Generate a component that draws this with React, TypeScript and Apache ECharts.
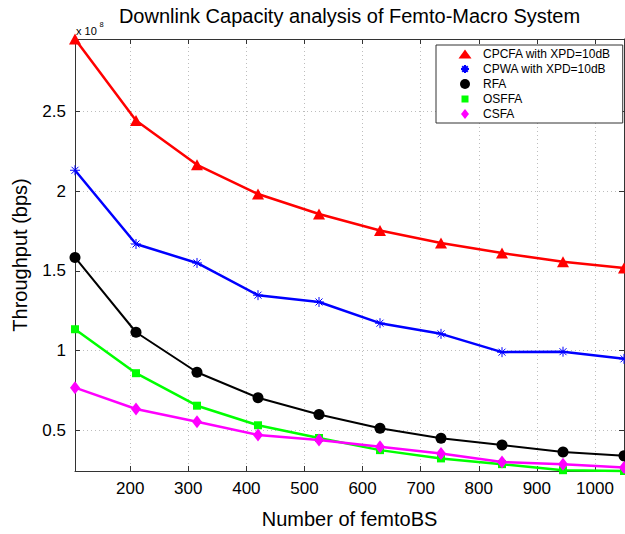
import React, { useEffect, useRef } from "react";
import * as echarts from "echarts";

const xValues = [105, 210, 315, 420, 525, 630, 735, 840, 945, 1050];
const cpcfa = [2.955, 2.443, 2.165, 1.982, 1.856, 1.753, 1.674, 1.611, 1.557, 1.517];
const cpwa = [2.131, 1.668, 1.549, 1.347, 1.304, 1.171, 1.104, 0.989, 0.992, 0.947];
const rfa = [1.584, 1.114, 0.863, 0.703, 0.598, 0.511, 0.448, 0.406, 0.362, 0.338];
const osffa = [1.133, 0.857, 0.653, 0.53, 0.45, 0.374, 0.322, 0.286, 0.248, 0.243];
const csfa = [0.766, 0.632, 0.552, 0.469, 0.437, 0.395, 0.353, 0.299, 0.286, 0.265];

const xTicks = [200, 300, 400, 500, 600, 700, 800, 900, 1000];
const yTicks = [0.5, 1, 1.5, 2, 2.5];
const seriesNames = [
  "CPCFA with XPD=10dB",
  "CPWA with XPD=10dB",
  "RFA",
  "OSFFA",
  "CSFA",
];

const FONT = "'Liberation Sans', Arial, Helvetica, sans-serif";
const AXIS_COLOR = "#333333";

const STAR = "path://M5 0V10M0 5H10M1.5 1.5L8.5 8.5M8.5 1.5L1.5 8.5";
const LEG_TRI = "path://M0 0M26 10M13 0.5L19.5 9.5H6.5Z";
const LEG_STAR = "path://M0 0M26 10M13 1V9M9 5H17M10.2 2.2L15.8 7.8M15.8 2.2L10.2 7.8";
const LEG_CIRC = "path://M0 0M26 10M8 5A5 5 0 1 1 18 5A5 5 0 1 1 8 5Z";
const LEG_SQ = "path://M0 0M26 10M9.5 1.5H16.5V8.5H9.5Z";
const LEG_DIA = "path://M0 0M26 10M13 0L17 5L13 10L9 5Z";

function pairs(ys: number[]) {
  return xValues.map((x, i) => [x, ys[i]]);
}

export default function App() {
  const ref = useRef<HTMLDivElement>(null);
  useEffect(() => {
    if (!ref.current) return;
    const chart = echarts.init(ref.current, null, { renderer: "svg" });
    const tickCommon = {
      show: true,
      inside: true,
      length: 5,
      lineStyle: { color: AXIS_COLOR, width: 1 },
    };
    const axisLineCommon = {
      show: true,
      lineStyle: { color: AXIS_COLOR, width: 1 },
    };
    const gridLine = {
      show: true,
      lineStyle: { color: "#bdbdbd", width: 1, type: [1, 3] as any },
    };
    const mkSeries = (
      name: string,
      data: number[],
      color: string,
      symbol: string,
      symbolSize: any,
      width: number,
      border?: boolean
    ) => ({
      name,
      type: "line",
      data: pairs(data),
      symbol,
      symbolSize,
      showSymbol: true,
      clip: false,
      lineStyle: { color, width },
      itemStyle: border
        ? { color, borderColor: color, borderWidth: 1 }
        : { color, borderWidth: 0 },
      emphasis: { disabled: true },
      z: 3,
    });
    chart.setOption({
      animation: false,
      backgroundColor: "#ffffff",
      textStyle: { fontFamily: FONT },
      title: {
        text: "Downlink Capacity analysis of Femto-Macro System",
        left: 349.5,
        textAlign: "center",
        top: 6,
        padding: 0,
        textStyle: {
          fontFamily: FONT,
          fontSize: 20,
          fontWeight: "normal",
          color: "#000000",
        },
      },
      grid: { left: 75, right: 1, top: 39, bottom: 62, containLabel: false },
      legend: {
        orient: "vertical",
        left: 436,
        top: 45,
        padding: [3, 12, 3, 15],
        itemGap: 3,
        itemWidth: 26,
        itemHeight: 10,
        backgroundColor: "#ffffff",
        borderColor: "#333333",
        borderWidth: 1,
        borderRadius: 0,
        textStyle: { fontFamily: FONT, fontSize: 12, color: "#000000" },
        data: [
          { name: seriesNames[0], icon: LEG_TRI },
          { name: seriesNames[1], icon: LEG_STAR },
          { name: seriesNames[2], icon: LEG_CIRC },
          { name: seriesNames[3], icon: LEG_SQ },
          { name: seriesNames[4], icon: LEG_DIA },
        ],
        z: 10,
      },
      xAxis: [
        {
          type: "value",
          position: "bottom",
          min: 105,
          max: 1050,
          name: "Number of femtoBS",
          nameLocation: "middle",
          nameGap: 38,
          nameTextStyle: { fontFamily: FONT, fontSize: 20, color: "#000000" },
          axisLine: axisLineCommon,
          axisTick: { ...tickCommon, customValues: xTicks },
          axisLabel: {
            customValues: xTicks,
            formatter: (v: number) => String(v),
            fontFamily: FONT,
            fontSize: 17,
            color: "#000000",
            margin: 9,
          },
          splitLine: gridLine,
        },
        {
          type: "value",
          position: "top",
          min: 105,
          max: 1050,
          axisLine: axisLineCommon,
          axisTick: { ...tickCommon, customValues: xTicks },
          axisLabel: { show: false },
          splitLine: { show: false },
        },
      ],
      yAxis: [
        {
          type: "value",
          position: "left",
          min: 0.243,
          max: 2.955,
          name: "Throughput (bps)",
          nameLocation: "middle",
          nameGap: 45,
          nameTextStyle: { fontFamily: FONT, fontSize: 20, color: "#000000" },
          axisLine: axisLineCommon,
          axisTick: { ...tickCommon, customValues: yTicks },
          axisLabel: {
            customValues: yTicks,
            formatter: (v: number) => String(v),
            fontFamily: FONT,
            fontSize: 17,
            color: "#000000",
            margin: 9,
          },
          splitLine: gridLine,
        },
        {
          type: "value",
          position: "right",
          min: 0.243,
          max: 2.955,
          axisLine: axisLineCommon,
          axisTick: { ...tickCommon, customValues: yTicks },
          axisLabel: { show: false },
          splitLine: { show: false },
        },
      ],
      graphic: [
        {
          type: "text",
          left: 76,
          top: 25,
          style: { text: "x 10", fontFamily: FONT, fontSize: 11, fill: "#000000" },
        },
        {
          type: "text",
          left: 99.5,
          top: 20,
          style: { text: "8", fontFamily: FONT, fontSize: 7.5, fill: "#000000" },
        },
      ],
      series: [
        mkSeries(seriesNames[0], cpcfa, "#ff0000", "triangle", [12, 11], 2.5),
        mkSeries(seriesNames[1], cpwa, "#0000ff", STAR, 10, 2.5, true),
        mkSeries(seriesNames[2], rfa, "#000000", "circle", 11, 2),
        mkSeries(seriesNames[3], osffa, "#00ff00", "rect", 8, 2.5),
        mkSeries(seriesNames[4], csfa, "#ff00ff", "diamond", [10, 13], 2.5),
      ],
    });
    return () => chart.dispose();
  }, []);
  return (
    <div
      ref={ref}
      style={{ position: "absolute", left: 0, top: 0, width: 625, height: 534 }}
    />
  );
}
